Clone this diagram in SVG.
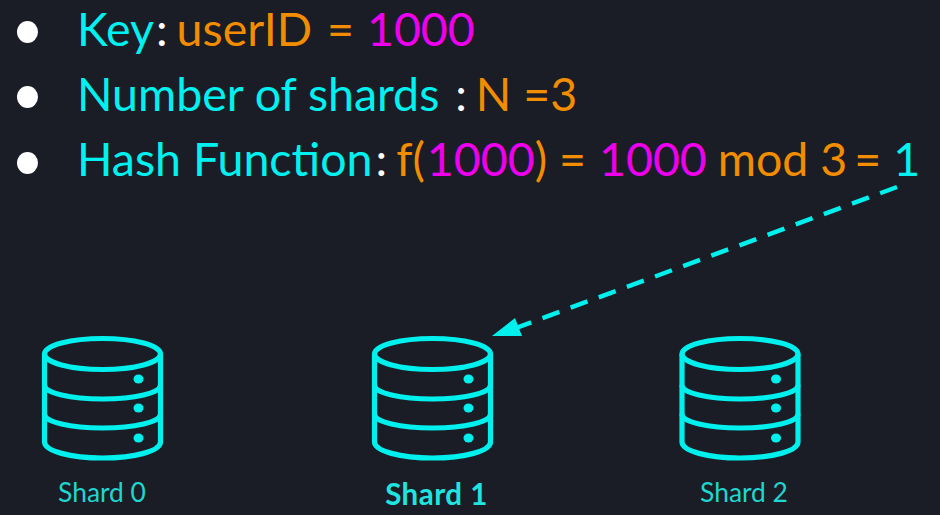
<svg xmlns="http://www.w3.org/2000/svg" width="940" height="515" viewBox="0 0 940 515">
<style>
.t{font-family:Lato,"Liberation Sans",sans-serif;font-size:46.5px}
.c{fill:#00f2f0}.w{fill:#fff}.o{fill:#f28c00}.m{fill:#ee00ee}
.s{font-family:Lato,"Liberation Sans",sans-serif;font-size:26.4px;fill:#1fd6d0;text-anchor:middle}
.db{fill:none;stroke:#00f0ee;stroke-width:5.2}
.dot{fill:#00f0ee}
</style>
<defs>
<g id="db">
<ellipse class="db" cx="0" cy="16" rx="58" ry="15.5"/>
<path class="db" d="M-58 16V104C-58 113-32 120 0 120S58 113 58 104V16"/>
<path class="db" d="M-58 47C-58 55-32 61 0 61S58 55 58 47"/>
<path class="db" d="M-58 76C-58 84-32 90 0 90S58 84 58 76"/>
<ellipse class="dot" cx="36" cy="41" rx="5" ry="4.5"/>
<ellipse class="dot" cx="36" cy="70" rx="5" ry="4.5"/>
<ellipse class="dot" cx="36" cy="100" rx="5" ry="4.5"/>
</g>
</defs>
<rect width="940" height="515" fill="#1a1d26"/>
<g id="bullets" fill="#fff">
<ellipse cx="27.5" cy="32" rx="10.5" ry="11"/>
<ellipse cx="27.5" cy="97" rx="10.5" ry="11"/>
<ellipse cx="27.5" cy="163" rx="10.5" ry="11"/>
</g>
<g id="line1"><text class="t" x="77" y="46"><tspan class="c">Key</tspan><tspan class="w" dx="2">:</tspan><tspan class="o" dx="9">userID</tspan><tspan class="o" dx="3"> = </tspan><tspan class="m" dx="1">1000</tspan></text></g>
<g id="line2"><text class="t" x="77" y="111"><tspan class="c">Number of shards </tspan><tspan class="w" dx="4">:</tspan><tspan class="o" dx="9">N =3</tspan></text></g>
<g id="line3"><text class="t" x="77" y="176"><tspan class="c">Hash Function</tspan><tspan class="w" dx="3">:</tspan><tspan class="o" dx="9">f(</tspan><tspan class="m" dx="2">1000</tspan><tspan class="o">) = </tspan><tspan class="m" dx="1">1000</tspan><tspan class="o" dx="-1"> mod 3</tspan><tspan class="o" dx="7">= </tspan><tspan class="c">1</tspan></text></g>
<g id="shard0"><use href="#db" x="102.5" y="338"/><text class="s" x="102" y="502">Shard 0</text></g>
<g id="shard1"><use href="#db" x="432.5" y="338"/><text class="s" x="436.5" y="505" style="font-weight:700;font-size:29.5px;letter-spacing:.5px;fill:#1fe4e0">Shard 1</text></g>
<g id="shard2"><use href="#db" x="740" y="338"/><text class="s" x="744" y="502">Shard 2</text></g>
<g id="connectors">
<line x1="897" y1="187" x2="515" y2="328.3" stroke="#00f0ee" stroke-width="4.5" stroke-dasharray="18 12"/>
<polygon points="492,336 515,318 522,336" fill="#00f0ee"/>
</g>
</svg>
